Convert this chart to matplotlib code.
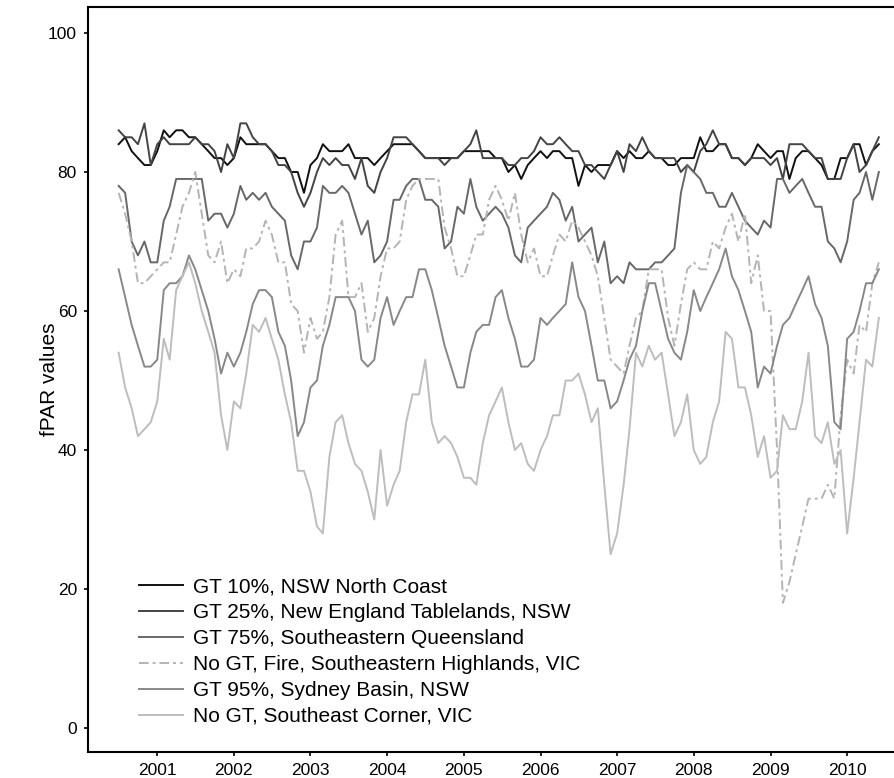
import matplotlib
matplotlib.use("Agg")
import matplotlib.pyplot as plt
import pandas as pd

plt.rcParams['font.family'] = ['Liberation Sans', 'DejaVu Sans']

dates = pd.date_range('2000-07-01', periods=120, freq='MS')

gt10 = [84, 85, 83, 82, 81, 81, 83, 86, 85, 86, 86, 85, 85, 84, 83, 82, 82, 81, 82, 85,
        84, 84, 84, 84, 83, 82, 82, 80, 80, 77, 81, 82, 84, 83, 83, 83, 84, 82, 82, 82, 81,
        82, 83, 84, 84, 84, 84, 83, 82, 82, 82, 82, 82, 82, 83, 83, 83, 83, 83, 82, 82,
        80, 81, 79, 81, 82, 83, 82, 83, 83, 82, 82, 78, 81, 80, 81, 81, 81, 83, 82, 83, 82, 82,
        83, 82, 82, 81, 81, 82, 82, 82, 85, 83, 83, 84, 84, 82, 82, 81, 82, 84, 83, 82,
        83, 83, 79, 82, 83, 83, 82, 81, 79, 79, 82, 82, 84, 84, 81, 83, 84]
gt25 = [86, 85, 85, 84, 87, 81, 84, 85, 84, 84, 84, 84, 85, 84, 84, 83, 80, 84, 82, 87,
        87, 85, 84, 84, 83, 81, 81, 80, 77, 75, 77, 80, 82, 81, 82, 81, 81, 79, 82, 78, 77,
        80, 82, 85, 85, 85, 84, 83, 82, 82, 82, 81, 82, 82, 83, 84, 86, 82, 82, 82, 82,
        81, 81, 82, 82, 83, 85, 84, 84, 85, 84, 83, 83, 81, 81, 80, 79, 81, 83, 80, 84, 83, 85,
        83, 82, 82, 82, 82, 80, 81, 80, 83, 84, 86, 84, 84, 82, 82, 81, 82, 82, 82, 81,
        82, 79, 84, 84, 84, 83, 82, 82, 79, 79, 79, 82, 84, 80, 81, 83, 85]
gt75 = [78, 77, 70, 68, 70, 67, 67, 73, 75, 79, 79, 79, 79, 79, 73, 74, 74, 72, 74, 78,
        76, 77, 76, 77, 75, 74, 73, 68, 66, 70, 70, 72, 78, 77, 77, 78, 77, 74, 71, 73, 67,
        68, 70, 76, 76, 78, 79, 79, 76, 76, 75, 69, 70, 75, 74, 79, 75, 73, 74, 75, 74,
        72, 68, 67, 72, 73, 74, 75, 77, 76, 73, 75, 70, 71, 72, 67, 70, 64, 65, 64, 67, 66, 66,
        66, 67, 67, 68, 69, 77, 81, 80, 79, 77, 77, 75, 75, 77, 75, 73, 72, 71, 73, 72,
        79, 79, 77, 78, 79, 77, 75, 75, 70, 69, 67, 70, 76, 77, 80, 76, 80]
fire = [77, 74, 70, 64, 64, 65, 66, 67, 67, 71, 75, 77, 80, 74, 68, 67, 70, 64, 66, 65,
        69, 69, 70, 73, 71, 67, 67, 61, 60, 54, 59, 56, 57, 62, 71, 73, 62, 62, 64, 57, 59,
        65, 69, 69, 70, 76, 78, 79, 79, 79, 79, 72, 69, 65, 65, 68, 71, 71, 76, 78, 76,
        73, 77, 71, 67, 69, 65, 65, 68, 71, 70, 73, 72, 70, 68, 65, 59, 53, 52, 51, 55, 59, 60,
        66, 66, 66, 59, 55, 61, 66, 67, 66, 66, 70, 69, 72, 74, 70, 74, 64, 68, 60, 60,
        40, 18, 21, 25, 29, 33, 33, 33, 35, 33, 45, 53, 51, 58, 57, 64, 67]
gt95 = [66, 62, 58, 55, 52, 52, 53, 63, 64, 64, 65, 68, 66, 63, 60, 56, 51, 54, 52, 54,
        57, 61, 63, 63, 62, 57, 55, 50, 42, 44, 49, 50, 55, 58, 62, 62, 62, 60, 53, 52, 53,
        59, 62, 58, 60, 62, 62, 66, 66, 63, 59, 55, 52, 49, 49, 54, 57, 58, 58, 62, 63,
        59, 56, 52, 52, 53, 59, 58, 59, 60, 61, 67, 62, 60, 55, 50, 50, 46, 47, 50, 53, 55, 60,
        64, 64, 60, 56, 54, 53, 57, 63, 60, 62, 64, 66, 69, 65, 63, 60, 57, 49, 52, 51,
        55, 58, 59, 61, 63, 65, 61, 59, 55, 44, 43, 56, 57, 60, 64, 64, 66]
se_corner = [54, 49, 46, 42, 43, 44, 47, 56, 53, 63, 65, 67, 64, 60, 57, 54, 45, 40, 47, 46,
             51, 58, 57, 59, 56, 53, 48, 44, 37, 37, 34, 29, 28, 39, 44, 45, 41, 38, 37, 34, 30,
             40, 32, 35, 37, 44, 48, 48, 53, 44, 41, 42, 41, 39, 36, 36, 35, 41, 45, 47, 49,
             44, 40, 41, 38, 37, 40, 42, 45, 45, 50, 50, 51, 48, 44, 46, 35, 25, 28, 35, 43, 54, 52,
             55, 53, 54, 48, 42, 44, 48, 40, 38, 39, 44, 47, 57, 56, 49, 49, 45, 39, 42, 36,
             37, 45, 43, 43, 47, 54, 42, 41, 44, 38, 40, 28, 36, 44, 53, 52, 59]

labels = ["GT 10%, NSW North Coast",
          "GT 25%, New England Tablelands, NSW",
          "GT 75%, Southeastern Queensland",
          "No GT, Fire, Southeastern Highlands, VIC",
          "GT 95%, Sydney Basin, NSW",
          "No GT, Southeast Corner, VIC"]
series = [gt10, gt25, gt75, fire, gt95, se_corner]
colors = ["#111111", "#444444", "#686868", "#b4b4b4", "#888888", "#bdbdbd"]
styles = ["-", "-", "-", (0, (5, 2, 1.5, 2)), "-", "-"]

years = list(range(2001, 2011))

fig = plt.figure(figsize=(8.95, 7.78), dpi=100)
ax = fig.add_axes([88 / 895, 26 / 778, 1 - 88 / 895, (752 - 7) / 778])

for vals, lab, c, ls in zip(series, labels, colors, styles):
    ax.plot(dates, vals, color=c, linestyle=ls, linewidth=1.4, label=lab)

ax.set_xlim(pd.Timestamp('2000-02-06'), pd.Timestamp('2010-08-17'))
ax.set_ylim(-3.45, 103.74)
ax.set_yticks([0, 20, 40, 60, 80, 100])
ax.set_xticks([pd.Timestamp(f'{y}-01-01') for y in years])
ax.set_xticklabels([str(y) for y in years])
ax.tick_params(axis='both', labelsize=12.5, length=3, width=1.2, direction='out', pad=5)
ax.set_ylabel("fPAR values", fontsize=15)
ax.yaxis.set_label_coords(-29 / 806, 0.5)

for s in ['left', 'bottom', 'top']:
    ax.spines[s].set_linewidth(1.5)
ax.spines['right'].set_visible(False)

leg = ax.legend(loc='lower left', bbox_to_anchor=(51 / 806, 26 / 745), frameon=False,
                fontsize=15, handlelength=2.1, handletextpad=0.5, labelspacing=0.33,
                borderpad=0, borderaxespad=0)

fig.savefig("out.png", dpi=100)
